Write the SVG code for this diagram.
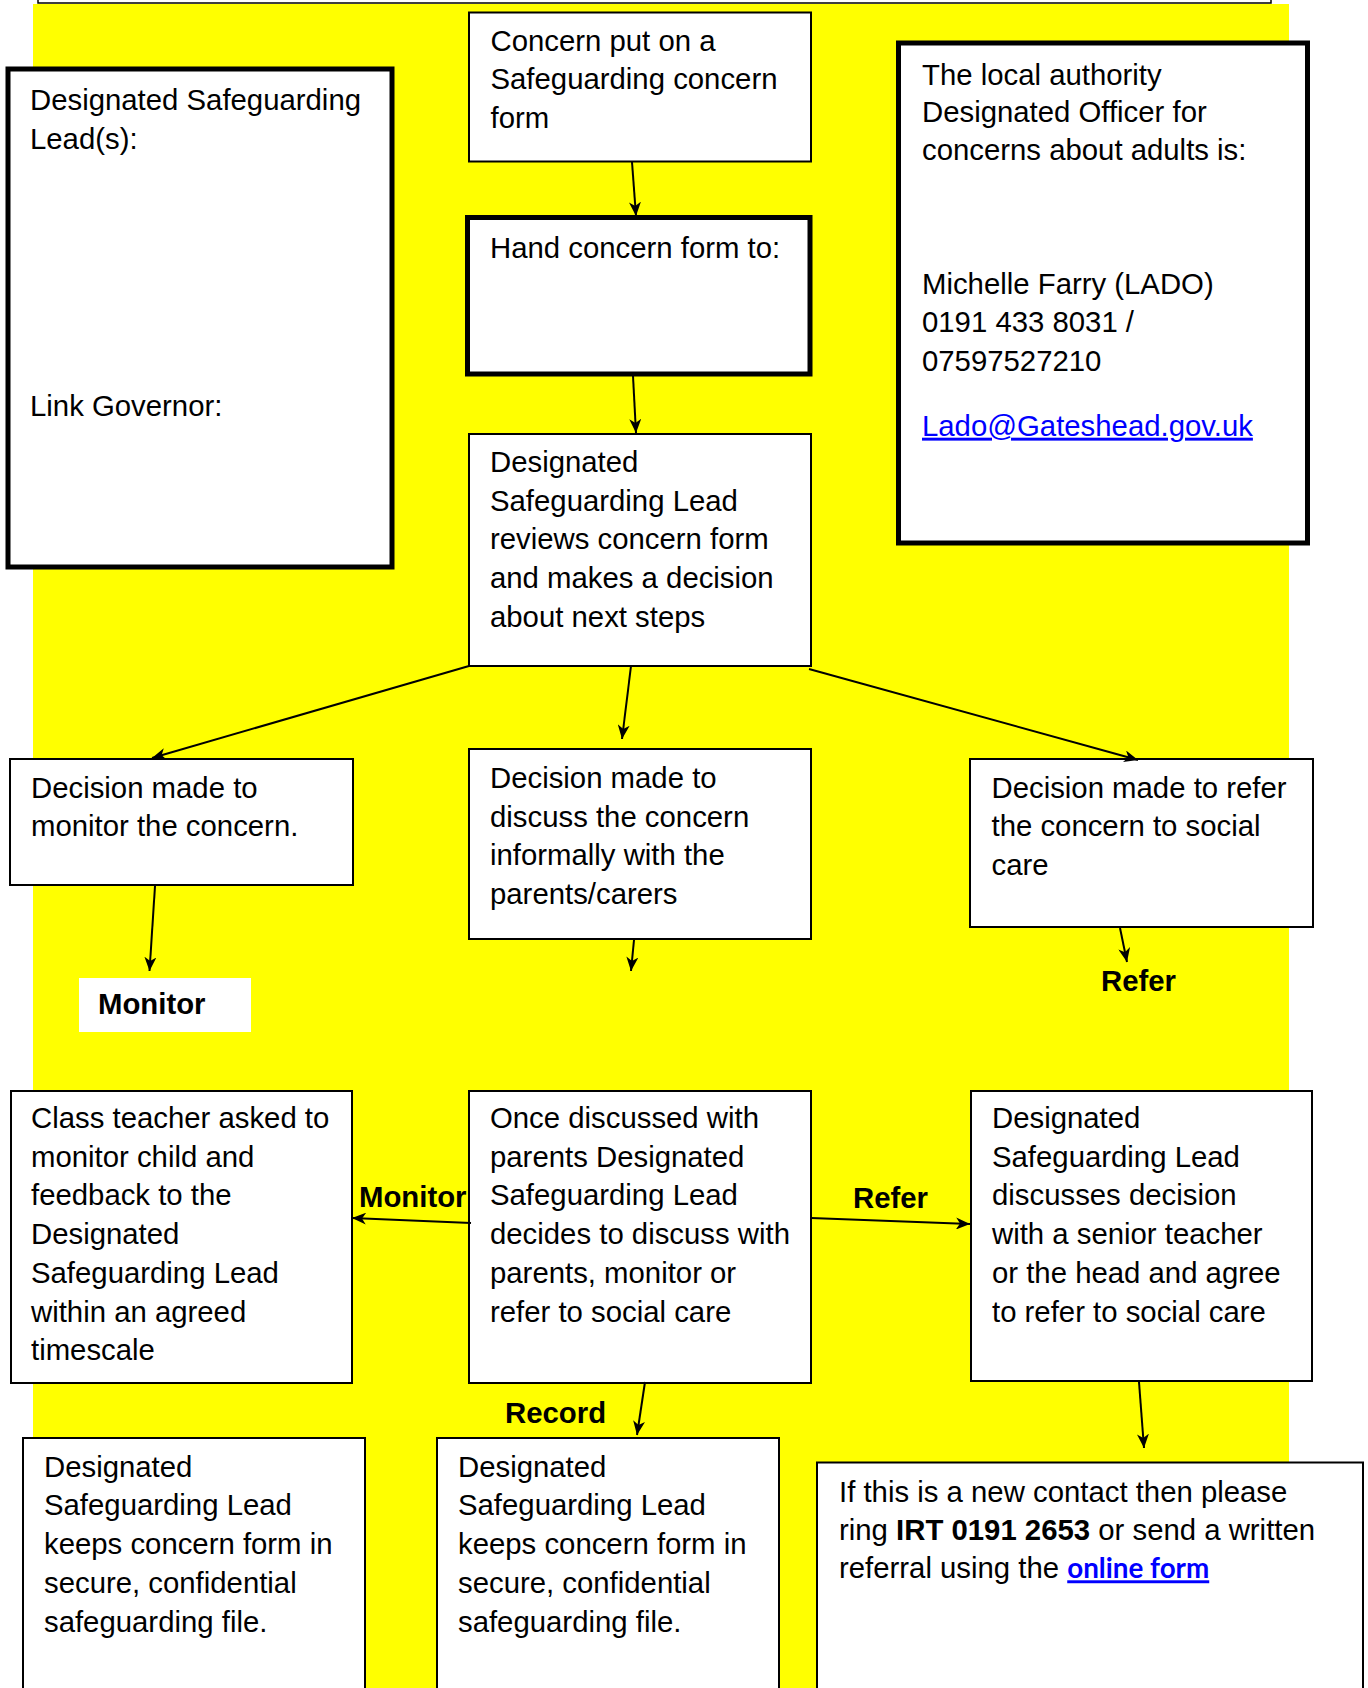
<svg xmlns="http://www.w3.org/2000/svg" width="1368" height="1688" viewBox="0 0 1368 1688">
<defs>
<style>
.box{fill:#fff;stroke:#000;stroke-width:2}
.thick{fill:#fff;stroke:#000;stroke-width:5}
.t{font-family:"Liberation Sans",Arial,sans-serif;font-size:29.33px;fill:#000}
.b{font-family:"Liberation Sans",Arial,sans-serif;font-size:29.33px;font-weight:bold;fill:#000}
.link{fill:#0000ff;text-decoration:underline}
.conn line{stroke:#000;stroke-width:2;marker-end:url(#ah)}
</style>
<marker id="ah" viewBox="0 0 14 12" refX="14" refY="6" markerWidth="14" markerHeight="12" markerUnits="userSpaceOnUse" orient="auto">
<path d="M0,0 L14,6 L0,12 L4,6 z" fill="#000"/>
</marker>
</defs>
<rect x="0" y="0" width="1368" height="1688" fill="#fff"/>
<rect x="33" y="4" width="1256" height="1684" fill="#ffff00"/>
<rect x="38" y="-20" width="1233" height="23" fill="#fff" stroke="#000" stroke-width="1.5"/>

<g id="dsl-lead">
<rect class="thick" x="8" y="69" width="384" height="498"/>
<text class="t" x="30" y="110">Designated Safeguarding</text>
<text class="t" x="30" y="148.7">Lead(s):</text>
<text class="t" x="30" y="415.5">Link Governor:</text>
</g>

<g id="concern-form">
<rect class="box" x="469" y="12.5" width="342" height="149"/>
<text class="t" x="490.5" y="50.7">Concern put on a</text>
<text class="t" x="490.5" y="89.4">Safeguarding concern</text>
<text class="t" x="490.5" y="128">form</text>
</g>

<g id="hand-form">
<rect class="thick" x="467.5" y="217.5" width="342.5" height="156.5"/>
<text class="t" x="490" y="258">Hand concern form to:</text>
</g>

<g id="lado">
<rect class="thick" x="898.5" y="43" width="409" height="500"/>
<text class="t" x="922" y="85">The local authority</text>
<text class="t" x="922" y="121.7">Designated Officer for</text>
<text class="t" x="922" y="160">concerns about adults is:</text>
<text class="t" x="922" y="293.6">Michelle Farry (LADO)</text>
<text class="t" x="922" y="332">0191 433 8031 /</text>
<text class="t" x="922" y="370.7">07597527210</text>
<text class="t link" x="922" y="435.7">Lado@Gateshead.gov.uk</text>
</g>

<g id="dsl-reviews">
<rect class="box" x="469" y="434" width="342" height="232"/>
<text class="t" x="490" y="472">Designated</text>
<text class="t" x="490" y="510.7">Safeguarding Lead</text>
<text class="t" x="490" y="549.4">reviews concern form</text>
<text class="t" x="490" y="588.1">and makes a decision</text>
<text class="t" x="490" y="626.8">about next steps</text>
</g>

<g id="decision-monitor">
<rect class="box" x="10" y="759" width="343" height="126"/>
<text class="t" x="31" y="797.5">Decision made to</text>
<text class="t" x="31" y="836.2">monitor the concern.</text>
</g>

<g id="decision-discuss">
<rect class="box" x="469" y="749" width="342" height="190"/>
<text class="t" x="490" y="788">Decision made to</text>
<text class="t" x="490" y="826.7">discuss the concern</text>
<text class="t" x="490" y="865.4">informally with the</text>
<text class="t" x="490" y="904.1">parents/carers</text>
</g>

<g id="decision-refer">
<rect class="box" x="970" y="759" width="343" height="168"/>
<text class="t" x="991.5" y="797.5">Decision made to refer</text>
<text class="t" x="991.5" y="836.2">the concern to social</text>
<text class="t" x="991.5" y="874.9">care</text>
</g>

<g id="label-monitor">
<rect x="79" y="978" width="172" height="54" fill="#fff"/>
<text class="b" x="98" y="1014">Monitor</text>
</g>

<g id="label-refer">
<text class="b" x="1101" y="991">Refer</text>
</g>

<g id="class-teacher">
<rect class="box" x="11" y="1091" width="341" height="292"/>
<text class="t" x="31" y="1128">Class teacher asked to</text>
<text class="t" x="31" y="1166.7">monitor child and</text>
<text class="t" x="31" y="1205.4">feedback to the</text>
<text class="t" x="31" y="1244.1">Designated</text>
<text class="t" x="31" y="1282.8">Safeguarding Lead</text>
<text class="t" x="31" y="1321.5">within an agreed</text>
<text class="t" x="31" y="1360.2">timescale</text>
</g>

<g id="once-discussed">
<rect class="box" x="469" y="1091" width="342" height="292"/>
<text class="t" x="490" y="1128">Once discussed with</text>
<text class="t" x="490" y="1166.7">parents Designated</text>
<text class="t" x="490" y="1205.4">Safeguarding Lead</text>
<text class="t" x="490" y="1244.1">decides to discuss with</text>
<text class="t" x="490" y="1282.8">parents, monitor or</text>
<text class="t" x="490" y="1321.5">refer to social care</text>
</g>

<g id="dsl-discusses">
<rect class="box" x="971" y="1091" width="341" height="290"/>
<text class="t" x="992" y="1128">Designated</text>
<text class="t" x="992" y="1166.7">Safeguarding Lead</text>
<text class="t" x="992" y="1205.4">discusses decision</text>
<text class="t" x="992" y="1244.1">with a senior teacher</text>
<text class="t" x="992" y="1282.8">or the head and agree</text>
<text class="t" x="992" y="1321.5">to refer to social care</text>
</g>

<g id="label-monitor-2">
<text class="b" x="359" y="1207">Monitor</text>
</g>
<g id="label-refer-2">
<text class="b" x="853" y="1208">Refer</text>
</g>
<g id="label-record">
<text class="b" x="505" y="1423">Record</text>
</g>

<g id="keeps-file-left">
<rect class="box" x="23" y="1438" width="342" height="280"/>
<text class="t" x="44" y="1476.7">Designated</text>
<text class="t" x="44" y="1515.4">Safeguarding Lead</text>
<text class="t" x="44" y="1554.1">keeps concern form in</text>
<text class="t" x="44" y="1592.8">secure, confidential</text>
<text class="t" x="44" y="1631.5">safeguarding file.</text>
</g>

<g id="keeps-file-mid">
<rect class="box" x="437" y="1438" width="342" height="280"/>
<text class="t" x="458" y="1476.7">Designated</text>
<text class="t" x="458" y="1515.4">Safeguarding Lead</text>
<text class="t" x="458" y="1554.1">keeps concern form in</text>
<text class="t" x="458" y="1592.8">secure, confidential</text>
<text class="t" x="458" y="1631.5">safeguarding file.</text>
</g>

<g id="new-contact">
<rect class="box" x="817" y="1462.5" width="546" height="260"/>
<text class="t" x="839" y="1501.7">If this is a new contact then please</text>
<text class="t" x="839" y="1540">ring <tspan font-weight="bold">IRT 0191 2653</tspan> or send a written</text>
<text class="t" x="839" y="1578.3">referral using the <tspan font-family="Lato, 'Liberation Sans', sans-serif" font-weight="bold" fill="#0000ff" text-decoration="underline" textLength="142" lengthAdjust="spacingAndGlyphs">online form</tspan></text>
</g>

<g id="connectors" class="conn">
<line x1="632" y1="162" x2="636" y2="216"/>
<line x1="633" y1="376" x2="636" y2="433"/>
<line x1="469" y1="666" x2="152" y2="758"/>
<line x1="631" y1="666" x2="622" y2="739"/>
<line x1="809" y1="669" x2="1138" y2="760"/>
<line x1="155" y1="886" x2="149.5" y2="971"/>
<line x1="634" y1="940" x2="631" y2="971"/>
<line x1="1120" y1="928" x2="1127" y2="962"/>
<line x1="471" y1="1223" x2="352" y2="1218"/>
<line x1="811" y1="1218" x2="970" y2="1224"/>
<line x1="645" y1="1382" x2="637" y2="1435"/>
<line x1="1139" y1="1382" x2="1144" y2="1448"/>
</g>
</svg>
